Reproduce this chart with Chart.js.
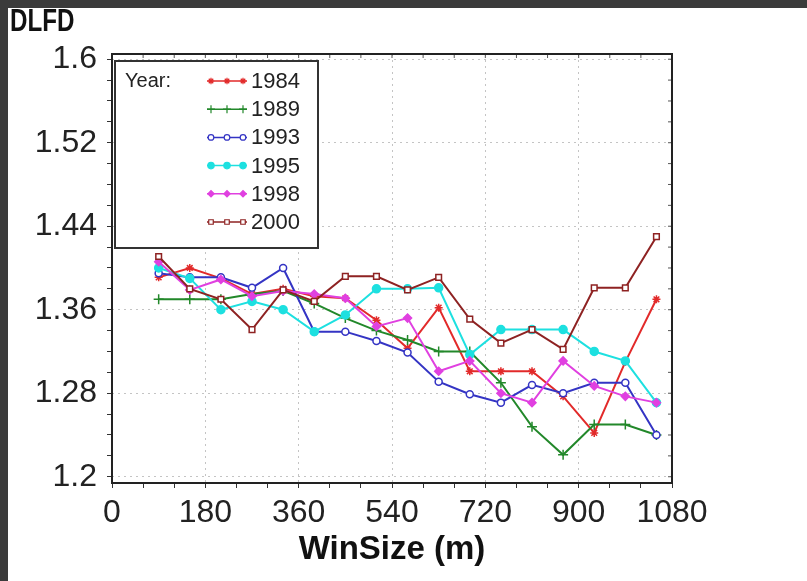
<!DOCTYPE html>
<html>
<head>
<meta charset="utf-8">
<script src="https://cdn.jsdelivr.net/npm/chart.js@4.4.1/dist/chart.umd.min.js"></script>
<style>
  html, body { margin: 0; padding: 0; background: #fff; }
  #wrap { width: 807px; height: 581px; }
</style>
</head>
<body>
<div id="wrap"><canvas id="chart" width="807" height="581"></canvas></div>
<script>
// ---------- DATA ----------
const winSizes = [90, 150, 210, 270, 330, 390, 450, 510, 570, 630, 690, 750, 810, 870, 930, 990, 1050];
const years = ['1984', '1989', '1993', '1995', '1998', '2000'];
const dlfd1984 = [1.391, 1.400, 1.390, 1.375, 1.380, 1.373, 1.371, 1.350, 1.323, 1.362, 1.301, 1.301, 1.301, 1.277, 1.242, 1.310, 1.370];
const dlfd1989 = [1.370, 1.370, 1.370, 1.375, 1.378, 1.366, 1.352, 1.340, 1.331, 1.320, 1.320, 1.290, 1.248, 1.221, 1.250, 1.250, 1.240];
const dlfd1993 = [1.395, 1.391, 1.391, 1.381, 1.400, 1.339, 1.339, 1.330, 1.319, 1.291, 1.279, 1.271, 1.288, 1.280, 1.290, 1.290, 1.240];
const dlfd1995 = [1.400, 1.390, 1.360, 1.368, 1.360, 1.339, 1.355, 1.380, 1.380, 1.381, 1.317, 1.341, 1.341, 1.341, 1.320, 1.311, 1.271];
const dlfd1998 = [1.406, 1.379, 1.389, 1.373, 1.378, 1.375, 1.371, 1.344, 1.352, 1.301, 1.311, 1.280, 1.271, 1.311, 1.287, 1.277, 1.271];
const dlfd2000 = [1.411, 1.380, 1.370, 1.341, 1.379, 1.368, 1.392, 1.392, 1.379, 1.391, 1.351, 1.328, 1.341, 1.322, 1.381, 1.381, 1.430];
const xTickLabels = ['0', '180', '360', '540', '720', '900', '1080'];
const yTickLabels = ['1.2', '1.28', '1.36', '1.44', '1.52', '1.6'];

// ---------- STYLES ----------
const seriesStyle = [
  { color: '#e22a2a', point: 'star', radius: 4, fill: '#e22a2a' },
  { color: '#22882a', point: 'cross', radius: 5, fill: '#22882a' },
  { color: '#3434c4', point: 'circle', radius: 3.5, fill: '#ffffff' },
  { color: '#1de0e0', point: 'circle', radius: 4, fill: '#1de0e0' },
  { color: '#e040e0', point: 'rectRot', radius: 4, fill: '#e040e0' },
  { color: '#8e2222', point: 'rect', radius: 4, fill: '#ffffff' }
];
const allSeries = [dlfd1984, dlfd1989, dlfd1993, dlfd1995, dlfd1998, dlfd2000];

const FONT = '"Liberation Sans", Arial, sans-serif';

const datasets = allSeries.map((vals, i) => ({
  label: years[i],
  data: winSizes.map((x, j) => ({ x: x, y: vals[j] })),
  borderColor: seriesStyle[i].color,
  backgroundColor: seriesStyle[i].fill,
  pointStyle: seriesStyle[i].point,
  pointRadius: seriesStyle[i].radius,
  pointBorderColor: seriesStyle[i].color,
  pointBackgroundColor: seriesStyle[i].fill,
  pointBorderWidth: 1.5,
  borderWidth: 2,
  tension: 0,
  order: 6 - i
}));

// background frame, plot border, inner ticks, legend and the DLFD label
const decorPlugin = {
  id: 'decor',
  beforeDraw(chart) {
    const c = chart.ctx;
    c.save();
    c.fillStyle = '#ffffff';
    c.fillRect(0, 0, chart.width, chart.height);
    c.fillStyle = '#3b3b3b';
    c.fillRect(0, 0, chart.width, 8);
    c.fillRect(0, 0, 8, chart.height);
    c.restore();
  },
  afterDraw(chart) {
    const c = chart.ctx;
    const a = chart.chartArea;
    const xs = chart.scales.x, ys = chart.scales.y;
    c.save();
    // inner ticks on top and right edges
    c.strokeStyle = '#555';
    c.lineWidth = 1;
    xs.ticks.forEach(t => {
      const px = xs.getPixelForValue(t.value);
      c.beginPath(); c.moveTo(px, a.top); c.lineTo(px, a.top + 4); c.stroke();
    });
    ys.ticks.forEach(t => {
      const py = ys.getPixelForValue(t.value);
      c.beginPath(); c.moveTo(a.right, py); c.lineTo(a.right - 4, py); c.stroke();
    });
    // frame
    c.strokeStyle = '#222';
    c.lineWidth = 2;
    c.strokeRect(a.left, a.top, a.right - a.left, a.bottom - a.top);

    // legend box
    const lx = 115, ly = 61, lw = 203, lh = 187;
    c.fillStyle = '#fff';
    c.fillRect(lx, ly, lw, lh);
    c.strokeStyle = '#333';
    c.lineWidth = 2;
    c.strokeRect(lx, ly, lw, lh);
    c.fillStyle = '#222';
    c.textBaseline = 'middle';
    c.textAlign = 'left';
    c.font = '20px ' + FONT;
    c.fillText('Year:', 125, 81);
    years.forEach((yr, i) => {
      const rowY = 81 + i * 28.2;
      const st = seriesStyle[i];
      c.strokeStyle = st.color;
      c.lineWidth = 1.5;
      c.beginPath(); c.moveTo(207, rowY); c.lineTo(247, rowY); c.stroke();
      [211, 227, 243].forEach(px => {
        c.fillStyle = st.fill;
        c.strokeStyle = st.color;
        c.lineWidth = 1.2;
        Chart.helpers.drawPoint(c, { pointStyle: st.point, radius: st.radius * 0.8, rotation: 0, borderWidth: 1.2 }, px, rowY);
      });
      c.fillStyle = '#222';
      c.font = '22px ' + FONT;
      c.fillText(yr, 251, rowY + 1);
    });

    // y-axis heading, squeezed like a narrow bold face
    c.fillStyle = '#111';
    c.font = 'bold 31px ' + FONT;
    c.textBaseline = 'top';
    c.translate(10, 7);
    c.scale(0.78, 1);
    c.fillText('DLFD', 0, 0);
    c.restore();
  }
};

new Chart(document.getElementById('chart'), {
  type: 'line',
  data: { datasets: datasets },
  plugins: [decorPlugin],
  options: {
    responsive: false,
    animation: false,
    devicePixelRatio: 1,
    layout: { padding: { top: 54, right: 135, left: 0, bottom: 0 } },
    plugins: { legend: { display: false }, tooltip: { enabled: false }, title: { display: false } },
    scales: {
      x: {
        type: 'linear',
        min: 0,
        max: 1080,
        afterFit(scale) { scale.height = 98; },
        ticks: {
          stepSize: 60,
          autoSkip: false,
          maxRotation: 0,
          padding: 6,
          color: '#222',
          font: { family: FONT, size: 32 },
          callback: (v) => (v % 180 === 0 ? xTickLabels[v / 180] : '')
        },
        grid: {
          color: (ctx) => (ctx.tick && ctx.tick.value % 180 === 0 ? '#c4c4c4' : 'rgba(0,0,0,0)'),
          tickColor: '#333',
          tickLength: 5,
          lineWidth: 1
        },
        border: { display: false, dash: [2, 4] },
        title: {
          display: true,
          text: 'WinSize (m)',
          color: '#111',
          font: { family: FONT, size: 33, weight: 'bold' },
          padding: { top: 0, bottom: 11 }
        }
      },
      y: {
        type: 'linear',
        min: 1.194,
        max: 1.605,
        afterFit(scale) { scale.width = 112; },
        afterBuildTicks(scale) {
          const t = [];
          for (let i = 0; i <= 20; i++) t.push({ value: +(1.2 + i * 0.02).toFixed(2) });
          scale.ticks = t;
        },
        ticks: {
          autoSkip: false,
          padding: 10,
          color: '#222',
          font: { family: FONT, size: 32 },
          callback: (v, i) => (i % 4 === 0 ? yTickLabels[i / 4] : '')
        },
        grid: {
          color: (ctx) => (ctx.index % 4 === 0 ? '#c4c4c4' : 'rgba(0,0,0,0)'),
          tickColor: '#333',
          tickLength: 5,
          lineWidth: 1
        },
        border: { display: false, dash: [2, 4] }
      }
    }
  }
});
</script>
</body>
</html>
